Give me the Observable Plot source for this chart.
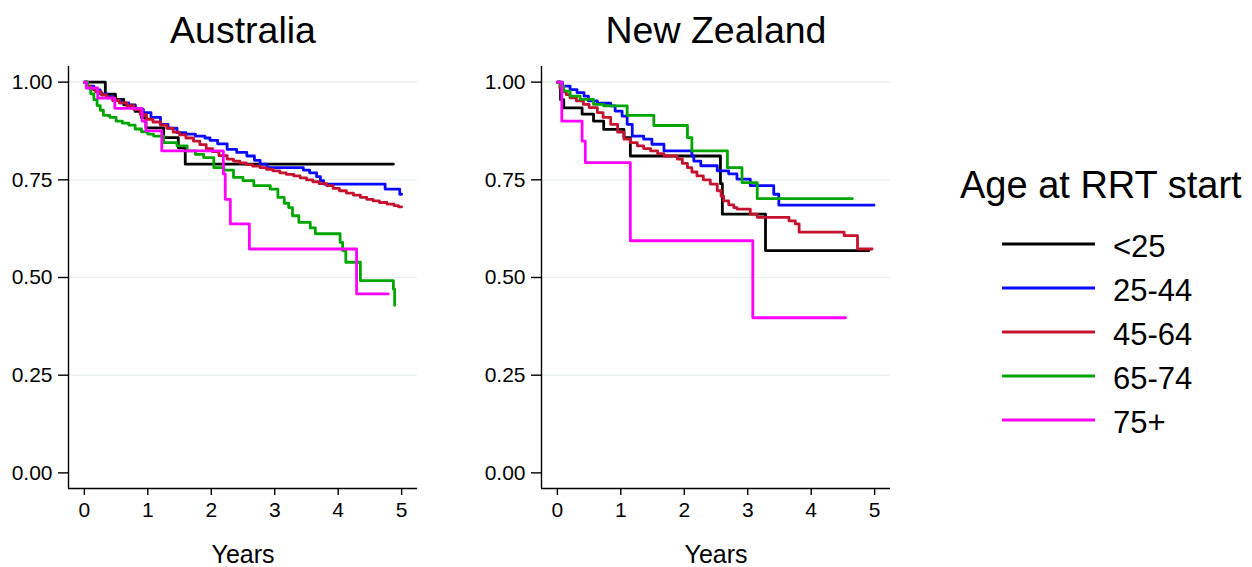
<!DOCTYPE html>
<html>
<head>
<meta charset="utf-8">
<script src="https://cdn.jsdelivr.net/npm/d3@7"></script>
<script src="https://cdn.jsdelivr.net/npm/@observablehq/plot@0.6"></script>
<style>
  body { margin: 0; background: #fff; }
  #chart { position: relative; width: 1252px; height: 567px; font-family: "Liberation Sans", Arial, Helvetica, sans-serif; }
  .panel { position: absolute; top: 0; }
</style>
</head>
<body>
<div id="chart"></div>
<script>
// Age groups and their line colours
const groups = ["<25", "25-44", "45-64", "65-74", "75+"];
const colors = ["#000000", "#0a0aff", "#c4122f", "#00a600", "#ff00ff"];

// Axis ticks
const xTicks = [0, 1, 2, 3, 4, 5];
const yTicks = [0, 0.25, 0.5, 0.75, 1];
const gridTicks = [0.25, 0.5, 0.75, 1];
const xDomain = [-0.25, 5.25];
const yDomain = [-0.04, 1.04];

// Kaplan-Meier survival estimates, [years, survival] — Australia
const ausLt25 = [[0,1],[0.33,0.969],[0.49,0.956],[0.62,0.942],[0.8,0.925],[0.9,0.909],[0.97,0.883],[1.25,0.858],[1.48,0.832],[1.59,0.79],[4.87,0.79]];
const aus25to44 = [[0,1],[0.05,0.99],[0.15,0.98],[0.25,0.97],[0.35,0.962],[0.45,0.953],[0.57,0.947],[0.7,0.94],[0.8,0.93],[0.93,0.922],[1.05,0.91],[1.2,0.892],[1.32,0.882],[1.46,0.871],[1.6,0.867],[1.75,0.862],[1.9,0.857],[1.98,0.851],[2.1,0.842],[2.25,0.828],[2.4,0.82],[2.56,0.811],[2.68,0.8],[2.77,0.79],[2.88,0.781],[3.45,0.775],[3.55,0.768],[3.66,0.758],[3.72,0.748],[3.77,0.739],[4.74,0.726],[4.97,0.713],[5.0,0.713]];
const aus45to64 = [[0,1],[0.05,0.99],[0.1,0.982],[0.18,0.975],[0.27,0.967],[0.35,0.96],[0.45,0.953],[0.55,0.947],[0.67,0.94],[0.78,0.93],[0.88,0.917],[0.98,0.905],[1.08,0.898],[1.2,0.89],[1.3,0.882],[1.4,0.872],[1.5,0.865],[1.6,0.857],[1.72,0.849],[1.82,0.84],[1.92,0.83],[2.02,0.822],[2.12,0.812],[2.25,0.803],[2.35,0.798],[2.45,0.793],[2.55,0.789],[2.65,0.785],[2.77,0.781],[2.87,0.777],[2.97,0.773],[3.08,0.768],[3.18,0.764],[3.3,0.76],[3.4,0.755],[3.5,0.75],[3.6,0.745],[3.7,0.74],[3.82,0.735],[3.92,0.728],[4.02,0.722],[4.13,0.716],[4.24,0.711],[4.35,0.705],[4.45,0.7],[4.55,0.696],[4.65,0.692],[4.77,0.688],[4.88,0.684],[4.95,0.681],[5.0,0.681]];
const aus65to74 = [[0,1],[0.05,0.985],[0.1,0.97],[0.15,0.955],[0.2,0.94],[0.25,0.928],[0.3,0.915],[0.4,0.91],[0.5,0.9],[0.6,0.895],[0.7,0.89],[0.8,0.88],[0.9,0.873],[1.0,0.867],[1.09,0.862],[1.25,0.845],[1.46,0.837],[1.62,0.824],[1.75,0.815],[1.88,0.807],[2.04,0.781],[2.2,0.775],[2.35,0.756],[2.5,0.748],[2.67,0.735],[2.93,0.726],[3.05,0.705],[3.15,0.69],[3.22,0.679],[3.28,0.658],[3.38,0.641],[3.56,0.627],[3.64,0.612],[4.03,0.59],[4.07,0.569],[4.12,0.539],[4.35,0.492],[4.87,0.47],[4.89,0.429]];
const aus75plus = [[0,1],[0.03,0.985],[0.21,0.959],[0.48,0.933],[0.91,0.9],[0.97,0.875],[1.22,0.824],[2.19,0.765],[2.22,0.7],[2.3,0.637],[2.6,0.573],[4.29,0.458],[4.79,0.458]];

// Kaplan-Meier survival estimates, [years, survival] — New Zealand
const nzLt25 = [[0,1],[0.05,0.955],[0.1,0.934],[0.39,0.918],[0.57,0.9],[0.73,0.879],[1.05,0.858],[1.15,0.811],[2.57,0.74],[2.6,0.662],[3.28,0.569],[4.91,0.569]];
const nz25to44 = [[0,1],[0.08,0.99],[0.2,0.981],[0.31,0.973],[0.42,0.964],[0.49,0.952],[0.63,0.946],[0.84,0.939],[0.91,0.926],[1.02,0.913],[1.1,0.892],[1.18,0.862],[1.36,0.854],[1.49,0.841],[1.68,0.824],[2.12,0.811],[2.15,0.798],[2.26,0.786],[2.52,0.773],[2.7,0.765],[2.83,0.752],[3.04,0.735],[3.41,0.713],[3.49,0.685],[4.99,0.685]];
const nz45to64 = [[0,1],[0.04,0.985],[0.07,0.975],[0.14,0.968],[0.2,0.96],[0.3,0.952],[0.41,0.943],[0.5,0.935],[0.63,0.922],[0.72,0.91],[0.84,0.892],[0.95,0.872],[1.05,0.854],[1.15,0.845],[1.26,0.837],[1.36,0.83],[1.47,0.824],[1.58,0.817],[1.68,0.811],[1.89,0.803],[1.97,0.792],[2.05,0.781],[2.12,0.77],[2.2,0.76],[2.3,0.75],[2.41,0.739],[2.52,0.722],[2.58,0.708],[2.62,0.696],[2.7,0.686],[2.78,0.679],[2.83,0.675],[3.04,0.662],[3.15,0.654],[3.65,0.645],[3.75,0.637],[3.81,0.616],[4.52,0.607],[4.73,0.573],[4.96,0.573]];
const nz65to74 = [[0,1],[0.05,0.99],[0.1,0.977],[0.2,0.964],[0.36,0.956],[0.57,0.943],[0.73,0.939],[1.1,0.915],[1.52,0.889],[2.05,0.858],[2.12,0.824],[2.68,0.781],[2.91,0.743],[3.15,0.702],[4.65,0.702]];
const nz75plus = [[0,1],[0.07,0.9],[0.39,0.849],[0.44,0.794],[1.15,0.594],[3.08,0.397],[4.54,0.397]];

const ausSeries = [ausLt25, aus25to44, aus45to64, aus65to74, aus75plus];
const nzSeries = [nzLt25, nz25to44, nz45to64, nz65to74, nz75plus];

const FONT = '"Liberation Sans", Arial, Helvetica, sans-serif';

function toRows(series) {
  return series.flatMap((pts, i) => pts.map(([t, s]) => ({group: groups[i], t, s})));
}

function panel(name, series, left) {
  const svg = Plot.plot({
    width: 430,
    height: 567,
    marginLeft: 68,
    marginRight: 13,
    marginTop: 66,
    marginBottom: 79,
    style: {fontFamily: FONT, background: "transparent", overflow: "visible", color: "#000"},
    x: {domain: xDomain},
    y: {domain: yDomain},
    color: {domain: groups, range: colors},
    marks: [
      Plot.ruleY(gridTicks, {stroke: "#e6eded", strokeWidth: 1.2}),
      Plot.line(toRows(series), {x: "t", y: "s", z: "group", stroke: "group", curve: "step-after", strokeWidth: 2.8}),
      Plot.ruleX([xDomain[0]], {stroke: "#000", strokeWidth: 1.4}),
      Plot.ruleY([yDomain[0]], {stroke: "#000", strokeWidth: 1.4}),
      Plot.axisY({ticks: yTicks, tickFormat: d3.format(".2f"), tickSize: 10, tickPadding: 6, fontSize: 21, label: null, strokeWidth: 1.4}),
      Plot.axisX({ticks: xTicks, tickFormat: d3.format("d"), tickSize: 7, tickPadding: 7, fontSize: 21, label: null, strokeWidth: 1.4}),
      Plot.text([name], {text: d => d, frameAnchor: "top", dy: -24, lineAnchor: "bottom", fontSize: 37.5}),
      Plot.text(["Years"], {text: d => d, frameAnchor: "bottom", dy: 74, lineAnchor: "bottom", fontSize: 25})
    ]
  });
  const holder = document.createElement("div");
  holder.className = "panel";
  holder.style.left = left + "px";
  holder.appendChild(svg);
  document.getElementById("chart").appendChild(holder);
}

panel("Australia", ausSeries, 0);
panel("New Zealand", nzSeries, 473);

// Legend: age at renal replacement therapy start
const leg = d3.select("#chart").append("svg")
  .attr("width", 1252).attr("height", 567)
  .style("position", "absolute").style("left", "0px").style("top", "0px")
  .style("font-family", FONT);
leg.append("text").attr("x", 960).attr("y", 198).attr("font-size", 38).attr("fill", "#000").text("Age at RRT start");
groups.forEach((g, i) => {
  const y = 244 + i * 44;
  leg.append("line").attr("x1", 1002).attr("x2", 1095).attr("y1", y).attr("y2", y)
    .attr("stroke", colors[i]).attr("stroke-width", 3);
  leg.append("text").attr("x", 1113).attr("y", y + 13).attr("font-size", 31).attr("fill", "#000").text(g);
});
</script>
</body>
</html>
